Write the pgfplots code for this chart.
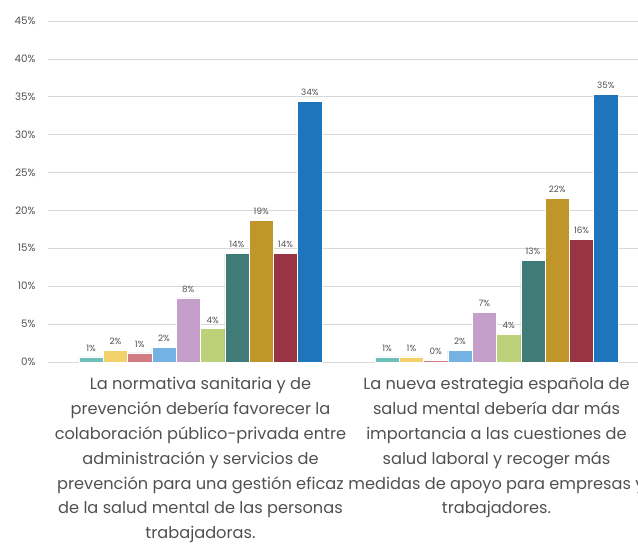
\documentclass[border=0pt]{standalone}
\usepackage{pgfplots}
\pgfplotsset{compat=1.18}
\usepackage{fontspec}
\setmainfont{Poppins}
\newfontfamily\numfont{Poppins}
\definecolor{cA}{HTML}{6FBFB9}
\definecolor{cB}{HTML}{F2D16B}
\definecolor{cC}{HTML}{D27B82}
\definecolor{cD}{HTML}{73B2E2}
\definecolor{cE}{HTML}{C49FC9}
\definecolor{cF}{HTML}{BBD27A}
\definecolor{cG}{HTML}{407B77}
\definecolor{cH}{HTML}{C0962A}
\definecolor{cI}{HTML}{983444}
\definecolor{cJ}{HTML}{1F75BC}
\definecolor{gridc}{HTML}{D9D9D9}
\definecolor{txt}{HTML}{505050}
\begin{document}
\begin{tikzpicture}
\useasboundingbox (0,0) rectangle (638pt,546pt);
\begin{axis}[
  at={(48pt,184pt)}, anchor=south west,
  scale only axis, width=590pt, height=341pt,
  ybar=0pt, bar width=24.3pt,
  xmin=-0.515, xmax=1.478,
  ymin=0, ymax=45,
  ytick={0,5,...,45},
  xtick={0,1},
  xticklabels={{La normativa sanitaria y de\\prevención debería favorecer la\\colaboración público-privada entre\\administración y servicios de\\prevención para una gestión eficaz\\de la salud mental de las personas\\trabajadoras.},
               {La nueva estrategia española de\\salud mental debería dar más\\importancia a las cuestiones de\\salud laboral y recoger más\\medidas de apoyo para empresas y\\trabajadores.}},
  xticklabel style={align=center, font=\fontsize{16.2}{24.8}\selectfont, text=txt, yshift=-12pt},
  yticklabel={\pgfmathprintnumber{\tick}\%},
  /pgf/number format/assume math mode=true,
  yticklabel style={font=\numfont\fontsize{10.3}{11}\selectfont, text=txt, xshift=-9pt},
  axis y line*=left,
  y axis line style={draw=none},
  axis x line*=bottom,
  x axis line style={gridc, line width=0.8pt},
  major tick length=0pt,
  ymajorgrids, grid style={gridc, line width=0.7pt},
  axis line style={-},
  nodes near coords={\pgfmathprintnumber[fixed,precision=0]{\pgfplotspointmeta}\%},
  nodes near coords style={font=\numfont\fontsize{8.8}{10}\selectfont, text=txt, /pgf/number format/assume math mode=true, yshift=2pt},
  every axis plot/.append style={draw=white, line width=0.4pt},
  clip=false,
]
\addplot[fill=cA] coordinates {(0,0.66) (1,0.66)};
\addplot[fill=cB] coordinates {(0,1.54) (1,0.66)};
\addplot[fill=cC] coordinates {(0,1.19) (1,0.26)};
\addplot[fill=cD] coordinates {(0,1.9) (1,1.54)};
\addplot[fill=cE] coordinates {(0,8.45) (1,6.55)};
\addplot[fill=cF] coordinates {(0,4.4) (1,3.7)};
\addplot[fill=cG] coordinates {(0,14.3) (1,13.4)};
\addplot[fill=cH] coordinates {(0,18.7) (1,21.6)};
\addplot[fill=cI] coordinates {(0,14.3) (1,16.2)};
\addplot[fill=cJ] coordinates {(0,34.4) (1,35.3)};
\end{axis}
\end{tikzpicture}
\end{document}
